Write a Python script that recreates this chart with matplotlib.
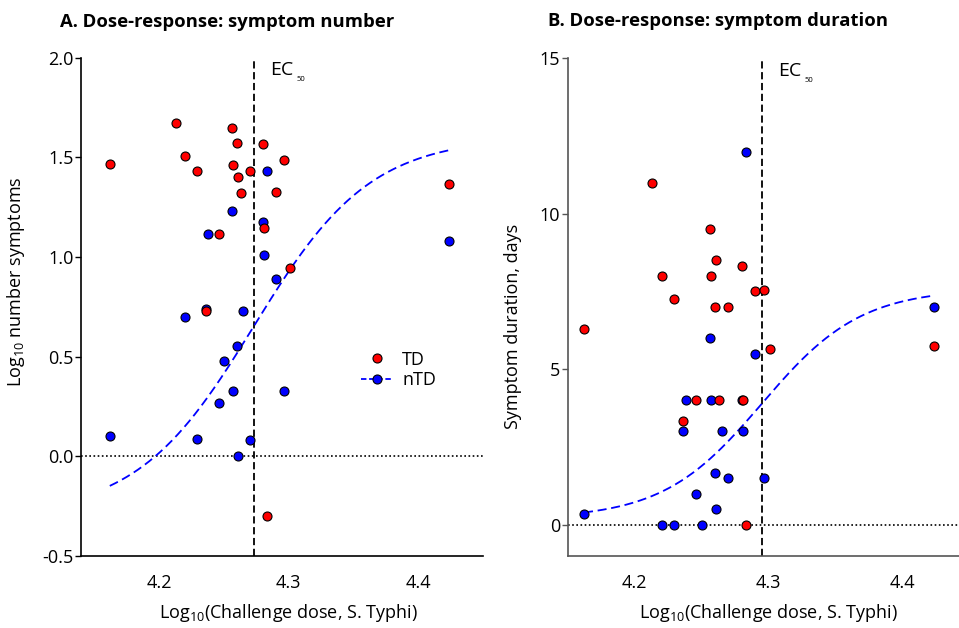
import numpy as np
import matplotlib
matplotlib.use('Agg')
import matplotlib.pyplot as plt
from matplotlib.lines import Line2D

plt.rcParams['font.family'] = ['Open Sans', 'DejaVu Sans']
plt.rcParams['mathtext.fontset'] = 'custom'
plt.rcParams['mathtext.rm'] = 'Open Sans'
plt.rcParams['mathtext.it'] = 'Open Sans'

# ---------------- Panel A: log10 number of symptoms ----------------
a_td_dose = [4.162, 4.213, 4.220, 4.229, 4.2565, 4.260, 4.257, 4.261, 4.2635, 4.270,
             4.280, 4.2965, 4.290, 4.4235, 4.246, 4.281, 4.301, 4.236, 4.283]
a_td_val = [1.465, 1.671, 1.505, 1.431, 1.647, 1.573, 1.461, 1.403, 1.322, 1.430,
            1.568, 1.485, 1.326, 1.368, 1.113, 1.147, 0.943, 0.728, -0.301]
a_ntd_dose = [4.283, 4.2565, 4.280, 4.238, 4.281, 4.290, 4.4235, 4.220, 4.236, 4.265,
              4.260, 4.250, 4.257, 4.2965, 4.246, 4.162, 4.229, 4.270, 4.261]
a_ntd_val = [1.431, 1.230, 1.175, 1.113, 1.010, 0.889, 1.080, 0.698, 0.737, 0.727,
             0.551, 0.476, 0.327, 0.327, 0.267, 0.101, 0.087, 0.081, 0.0]
# fitted 4-parameter logistic (nTD): bottom, top, logEC50, Hill slope
a_fit_bottom, a_fit_top, a_ec50, a_hill = -0.30, 1.601, 4.273, 9.6

# ---------------- Panel B: symptom duration (days) ----------------
b_td_dose = [4.213, 4.256, 4.261, 4.280, 4.220, 4.257, 4.229, 4.260, 4.270, 4.290,
             4.2965, 4.162, 4.301, 4.4235, 4.246, 4.263, 4.281, 4.236, 4.283]
b_td_val = [11.0, 9.5, 8.5, 8.33, 8.0, 8.0, 7.25, 7.0, 7.0, 7.5,
            7.55, 6.28, 5.65, 5.74, 4.0, 4.0, 4.0, 3.33, 0.0]
b_ntd_dose = [4.283, 4.4235, 4.256, 4.290, 4.238, 4.257, 4.280, 4.236, 4.265, 4.281,
              4.260, 4.270, 4.2965, 4.246, 4.261, 4.162, 4.220, 4.229, 4.250]
b_ntd_val = [12.0, 7.0, 6.0, 5.5, 4.0, 4.0, 4.0, 3.0, 3.0, 3.0,
             1.66, 1.5, 1.5, 1.0, 0.5, 0.33, 0.0, 0.0, 0.0]
b_fit_bottom, b_fit_top, b_ec50, b_hill = 0.19, 7.59, 4.295, 11.7

a_yticks = [-0.5, 0.0, 0.5, 1.0, 1.5, 2.0]
a_yticklabels = ['-0.5', '0.0', '0.5', '1.0', '1.5', '2.0']
b_yticks = [0, 5, 10, 15]
x_ticks = [4.2, 4.3, 4.4]

titles = ['A. Dose-response: symptom number', 'B. Dose-response: symptom duration']
ylabels = [r'Log$_{\mathregular{10}}$ number symptoms', 'Symptom duration, days']
xlabel = r'Log$_{\mathregular{10}}$(Challenge dose, S. Typhi)'


def logistic(x, bottom, top, ec, hill):
    return bottom + (top - bottom) / (1 + 10 ** ((ec - x) * hill))


W, H = 959, 628
fig = plt.figure(figsize=(W / 100, H / 100), dpi=100)

axA = fig.add_axes([81.3 / W, 1 - 555.7 / H, 401.7 / W, 498 / H])
axB = fig.add_axes([568 / W, 1 - 555.7 / H, 401 / W, 497.4 / H])

panels = [
    (axA, a_td_dose, a_td_val, a_ntd_dose, a_ntd_val,
     (a_fit_bottom, a_fit_top, a_ec50, a_hill), (4.14, 4.45), (-0.5, 2.0), a_yticks, a_yticklabels, 'black'),
    (axB, b_td_dose, b_td_val, b_ntd_dose, b_ntd_val,
     (b_fit_bottom, b_fit_top, b_ec50, b_hill), (4.15, 4.45), (-1, 15), b_yticks, [str(t) for t in b_yticks], '#555555'),
]

for i, (ax, tdx, tdy, ntx, nty, fit, xl, yl, yt, ytl, spc) in enumerate(panels):
    alld = np.array(tdx + ntx)
    xs = np.linspace(alld.min(), alld.max(), 300)
    ax.plot(xs, logistic(xs, *fit), color='#0000ff', ls=(0, (5, 2.6)), lw=1.3, zorder=2)
    ax.axhline(0, color='black', ls=(0, (1, 1.5)), lw=1.2, zorder=1)
    ax.axvline(fit[2], color='black', ls=(0, (4, 2)), lw=1.3, zorder=1)
    ax.scatter(ntx, nty, s=42, color='#0000ff', edgecolors='black', linewidths=0.8, zorder=3)
    ax.scatter(tdx, tdy, s=42, color='#ff0000', edgecolors='black', linewidths=0.8, zorder=4)
    ax.set_xlim(*xl)
    ax.set_ylim(*yl)
    ax.set_xticks(x_ticks)
    ax.set_xticklabels([f'{t:.1f}' for t in x_ticks])
    ax.set_yticks(yt)
    ax.set_yticklabels(ytl)
    ax.tick_params(axis='x', length=0, pad=13, labelsize=13)
    ax.tick_params(axis='y', length=4, width=1, pad=1.5, labelsize=13, color=spc)
    for s in ['top', 'right']:
        ax.spines[s].set_visible(False)
    for s in ['left', 'bottom']:
        ax.spines[s].set_color(spc)
        ax.spines[s].set_linewidth(1.2)
    ax.set_xlabel(xlabel, fontsize=13)
    ax.set_ylabel(ylabels[i], fontsize=13)
    # EC50 label
    ax.annotate('EC', xy=(fit[2], yl[1]), xytext=(12, -9), textcoords='offset points',
                ha='left', va='center', fontsize=14)
    ax.annotate('50', xy=(fit[2], yl[1]), xytext=(31, -16), textcoords='offset points',
                ha='left', va='center', fontsize=5.5)

axA.yaxis.set_label_coords(-0.135, 0.55)
axB.yaxis.set_label_coords(-0.115, 0.46)
axB.xaxis.set_label_coords((768 - 568) / 401, -0.093)
axA.xaxis.set_label_coords((288 - 81.3) / 401.7, -0.093)

handles = [Line2D([], [], color='#ff0000', marker='o', ls='none', markersize=6.5,
                  markeredgecolor='black', markeredgewidth=0.8),
           Line2D([], [], color='#0000ff', marker='o', ls=(0, (3, 1.5)), lw=1.3, markersize=6.5,
                  markeredgecolor='black', markeredgewidth=0.8)]
axA.legend(handles, ['TD', 'nTD'], loc='center left', bbox_to_anchor=(0.655, 0.373),
           frameon=False, fontsize=13, handlelength=1.8, handletextpad=0.5, labelspacing=0.15)

fig.text(60 / W, 1 - 22 / H, titles[0], fontsize=13.3, fontweight='bold', ha='left', va='center')
fig.text(548 / W, 1 - 21 / H, titles[1], fontsize=13.3, fontweight='bold', ha='left', va='center')

fig.savefig('out.png', dpi=100)
